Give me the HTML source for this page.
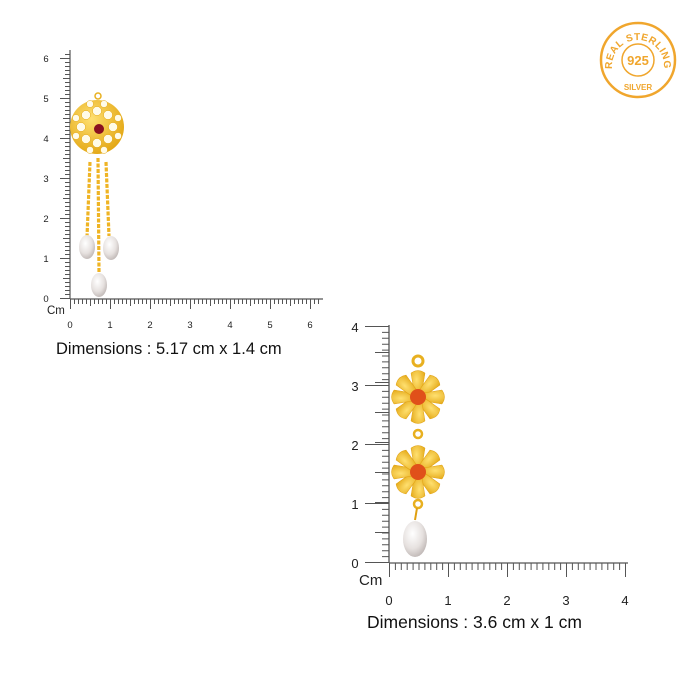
<!DOCTYPE html>
<html><head><style>
html,body{margin:0;padding:0;background:#fff;}
svg{display:block;font-family:"Liberation Sans",sans-serif;}
</style></head><body>
<svg width="700" height="700" viewBox="0 0 700 700">
<defs>
<radialGradient id="pearl" cx="40%" cy="35%" r="70%"><stop offset="0" stop-color="#fff"/><stop offset="0.6" stop-color="#e6e1df"/><stop offset="1" stop-color="#bdb5b3"/></radialGradient>
<radialGradient id="gold" cx="40%" cy="35%" r="70%"><stop offset="0" stop-color="#ffe070"/><stop offset="1" stop-color="#e2a511"/></radialGradient>
</defs>
<!-- LEFT RULER -->
<g stroke="#555">
<line x1="70" y1="299" x2="323" y2="299" stroke-width="1.2"/>
<line x1="70" y1="299" x2="70" y2="50" stroke-width="1.2"/>
<line x1="70" y1="301.5" x2="322" y2="301.5" stroke-width="5" stroke-dasharray="1 3"/>
<line x1="70" y1="302.5" x2="322" y2="302.5" stroke-width="7" stroke-dasharray="1 39" stroke-dashoffset="-20"/>
<line x1="70" y1="304" x2="322" y2="304" stroke-width="10" stroke-dasharray="1 39"/>
<line x1="67.5" y1="299" x2="67.5" y2="52" stroke-width="5" stroke-dasharray="1 3"/>
<line x1="66.5" y1="299" x2="66.5" y2="52" stroke-width="7" stroke-dasharray="1 39" stroke-dashoffset="-20"/>
<line x1="65" y1="299" x2="65" y2="52" stroke-width="10" stroke-dasharray="1 39"/>
</g>
<g font-size="9.5" fill="#222" text-anchor="middle">
<text x="46" y="302">0</text><text x="46" y="262">1</text><text x="46" y="222">2</text><text x="46" y="182">3</text><text x="46" y="142">4</text><text x="46" y="102">5</text><text x="46" y="62">6</text>
<text x="70" y="328">0</text><text x="110" y="328">1</text><text x="150" y="328">2</text><text x="190" y="328">3</text><text x="230" y="328">4</text><text x="270" y="328">5</text><text x="310" y="328">6</text>
</g>
<text x="47" y="314" font-size="11.5" fill="#222">Cm</text>
<text x="56" y="354" font-size="16.5" fill="#111">Dimensions : 5.17 cm x 1.4 cm</text>
<!-- left earring -->
<g>
<circle cx="98" cy="96" r="3" fill="none" stroke="#e8b020" stroke-width="1.5"/>
<circle cx="97" cy="127" r="27" fill="url(#gold)"/>
<g fill="#fffbe8" stroke="#e5a815" stroke-width="0.5">
<circle cx="97" cy="111" r="4.5"/><circle cx="108" cy="115" r="4.5"/><circle cx="113" cy="127" r="4.5"/><circle cx="108" cy="139" r="4.5"/><circle cx="97" cy="143" r="4.5"/><circle cx="86" cy="139" r="4.5"/><circle cx="81" cy="127" r="4.5"/><circle cx="86" cy="115" r="4.5"/>
<circle cx="104" cy="104" r="3.5"/><circle cx="118" cy="118" r="3.5"/><circle cx="118" cy="136" r="3.5"/><circle cx="104" cy="150" r="3.5"/><circle cx="90" cy="150" r="3.5"/><circle cx="76" cy="136" r="3.5"/><circle cx="76" cy="118" r="3.5"/><circle cx="90" cy="104" r="3.5"/>
</g>
<circle cx="99" cy="129" r="5" fill="#8a1020"/>
<g fill="none" stroke="#efb424" stroke-width="3.2" stroke-dasharray="4 1.5">
<line x1="90" y1="162" x2="87" y2="237"/><line x1="98" y1="158" x2="99" y2="272"/><line x1="106" y1="162" x2="109" y2="236"/>
</g>
<ellipse cx="87" cy="247" rx="8" ry="12" fill="url(#pearl)"/>
<ellipse cx="111" cy="248" rx="8" ry="12" fill="url(#pearl)"/>
<ellipse cx="99" cy="285" rx="8" ry="12" fill="url(#pearl)"/>
</g>
<!-- RIGHT RULER -->
<g stroke="#555">
<line x1="389" y1="563" x2="628" y2="563" stroke-width="1.3"/>
<line x1="389" y1="563" x2="389" y2="325" stroke-width="1.3"/>
<line x1="389" y1="566.5" x2="627" y2="566.5" stroke-width="7" stroke-dasharray="1 4.9"/>
<line x1="389" y1="570" x2="627" y2="570" stroke-width="14" stroke-dasharray="1 58"/>
<line x1="385.5" y1="563" x2="385.5" y2="326" stroke-width="7" stroke-dasharray="1 4.9"/>
<line x1="382" y1="563" x2="382" y2="326" stroke-width="14" stroke-dasharray="1 29"/>
<line x1="377" y1="563" x2="377" y2="326" stroke-width="24" stroke-dasharray="1 58"/>
</g>
<g font-size="13" fill="#222" text-anchor="middle">
<text x="355" y="568">0</text><text x="355" y="509">1</text><text x="355" y="450">2</text><text x="355" y="391">3</text><text x="355" y="332">4</text>
<text x="389" y="605">0</text><text x="448" y="605">1</text><text x="507" y="605">2</text><text x="566" y="605">3</text><text x="625" y="605">4</text>
</g>
<text x="359" y="585" font-size="15" fill="#222">Cm</text>
<text x="367" y="628" font-size="17.5" fill="#111">Dimensions : 3.6 cm x 1 cm</text>
<!-- right earring -->
<g>
<circle cx="418" cy="361" r="5" fill="none" stroke="#e8b020" stroke-width="3"/>
<g fill="url(#gold)" stroke="#e0a010" stroke-width="0.5">
<g transform="translate(418,397)">
<path d="M-3,0 L-7,-24 Q0,-29 7,-24 L3,0Z" transform="rotate(0)"/><path d="M-3,0 L-7,-24 Q0,-29 7,-24 L3,0Z" transform="rotate(45)"/><path d="M-3,0 L-7,-24 Q0,-29 7,-24 L3,0Z" transform="rotate(90)"/><path d="M-3,0 L-7,-24 Q0,-29 7,-24 L3,0Z" transform="rotate(135)"/><path d="M-3,0 L-7,-24 Q0,-29 7,-24 L3,0Z" transform="rotate(180)"/><path d="M-3,0 L-7,-24 Q0,-29 7,-24 L3,0Z" transform="rotate(225)"/><path d="M-3,0 L-7,-24 Q0,-29 7,-24 L3,0Z" transform="rotate(270)"/><path d="M-3,0 L-7,-24 Q0,-29 7,-24 L3,0Z" transform="rotate(315)"/>
</g>
<g transform="translate(418,472)">
<path d="M-3,0 L-7,-24 Q0,-29 7,-24 L3,0Z" transform="rotate(0)"/><path d="M-3,0 L-7,-24 Q0,-29 7,-24 L3,0Z" transform="rotate(45)"/><path d="M-3,0 L-7,-24 Q0,-29 7,-24 L3,0Z" transform="rotate(90)"/><path d="M-3,0 L-7,-24 Q0,-29 7,-24 L3,0Z" transform="rotate(135)"/><path d="M-3,0 L-7,-24 Q0,-29 7,-24 L3,0Z" transform="rotate(180)"/><path d="M-3,0 L-7,-24 Q0,-29 7,-24 L3,0Z" transform="rotate(225)"/><path d="M-3,0 L-7,-24 Q0,-29 7,-24 L3,0Z" transform="rotate(270)"/><path d="M-3,0 L-7,-24 Q0,-29 7,-24 L3,0Z" transform="rotate(315)"/>
</g>
</g>
<circle cx="418" cy="397" r="8" fill="#e0501a"/>
<circle cx="418" cy="472" r="8" fill="#e0501a"/>
<circle cx="418" cy="434" r="4" fill="none" stroke="#e8b020" stroke-width="2.5"/>
<circle cx="418" cy="504" r="4" fill="none" stroke="#e8b020" stroke-width="2.5"/>
<line x1="417" y1="508" x2="415" y2="520" stroke="#e0a010" stroke-width="2"/>
<ellipse cx="415" cy="539" rx="12" ry="18" fill="url(#pearl)"/>
</g>
<!-- BADGE -->
<g fill="none" stroke="#f0a62d">
<circle cx="638" cy="60" r="37" stroke-width="2.5"/>
<circle cx="638" cy="60" r="16" stroke-width="1.5"/>
</g>
<path id="arc" d="M612,66 A26,26 0 1 1 664,66" fill="none"/>
<text font-size="10" font-weight="bold" fill="#f0a62d" letter-spacing="0.5"><textPath href="#arc" startOffset="50%" text-anchor="middle">REAL STERLING</textPath></text>
<text x="638" y="65" font-size="13" font-weight="bold" fill="#f0a62d" text-anchor="middle">925</text>
<text x="638" y="90" font-size="8" font-weight="bold" fill="#f0a62d" text-anchor="middle">SILVER</text>
</svg>
</body></html>
